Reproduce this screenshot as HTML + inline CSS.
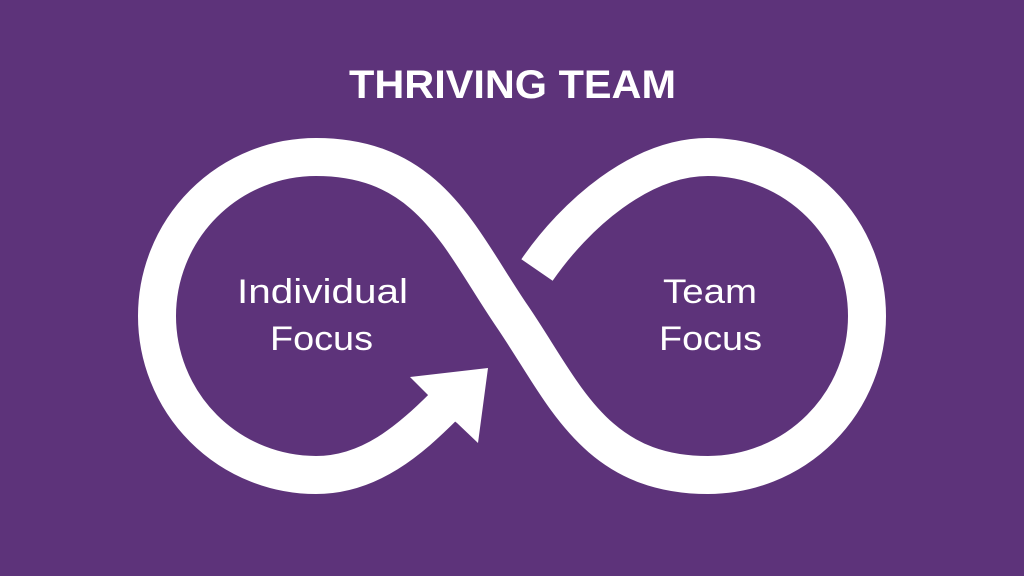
<!DOCTYPE html>
<html><head><style>
html,body{margin:0;padding:0;background:#5d337a;}
body{width:1024px;height:576px;overflow:hidden;position:relative;}
svg{position:absolute;left:0;top:0}
</style></head><body>
<svg width="1024" height="576" viewBox="0 0 1024 576">
<rect width="1024" height="576" fill="#5d337a"/>
<g fill="none" stroke="#fff" stroke-width="38">
<path d="M316,157 C430,157 460,240 512,316 C564,392 594,475 708,475 A159 159 0 0 0 708,157 C640,157 575,215 537,270"/>
<path d="M316,157 A159 159 0 0 0 316,475 C370,475 410,440 445,405"/>
</g>
<polygon points="488,368 410,377 431,398 440,410 457,423 478,443" fill="#fff"/>
<g fill="#fff" font-family="Liberation Sans, sans-serif">
<text x="349" y="98" font-size="40" font-weight="bold" textLength="327" lengthAdjust="spacingAndGlyphs">THRIVING TEAM</text>
<text x="237" y="303" font-size="34" textLength="171" lengthAdjust="spacingAndGlyphs">Individual</text>
<text x="270" y="350" font-size="34" textLength="103" lengthAdjust="spacingAndGlyphs">Focus</text>
<text x="663" y="303" font-size="34" textLength="94" lengthAdjust="spacingAndGlyphs">Team</text>
<text x="659" y="350" font-size="34" textLength="103" lengthAdjust="spacingAndGlyphs">Focus</text>
</g>
</svg>
</body></html>
